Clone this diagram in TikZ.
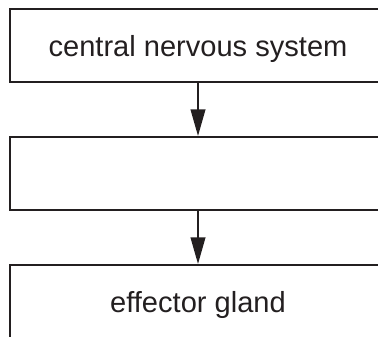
\documentclass[tikz,border=0pt]{standalone}
\usepackage{fontspec}
\setmainfont{Liberation Sans}
\usetikzlibrary{arrows.meta}
\definecolor{ink}{HTML}{231F20}
\begin{document}
\begin{tikzpicture}[x=0.75pt,y=-0.75pt,
  box/.style={draw=ink,line width=1.5pt,minimum width=282pt,minimum height=54.75pt,
    inner sep=0pt,text height=16.5pt,text depth=0pt,font=\fontsize{21.8}{26}\selectfont,text=ink},
  arr/.style={draw=ink,line width=1.5pt,-{Triangle[length=20pt,width=11pt]}}]
\useasboundingbox (0,0) rectangle (378,336);
\clip (0,0) rectangle (378,336);
\node[box] (cns) at (198,45) {central nervous system};
\node[box] (mid) at (198,173.5) {};
\node[box] (eff) at (198,301.5) {effector gland};
\draw[arr] (cns.south) -- (mid.north);
\draw[arr] (mid.south) -- (eff.north);
\end{tikzpicture}
\end{document}
